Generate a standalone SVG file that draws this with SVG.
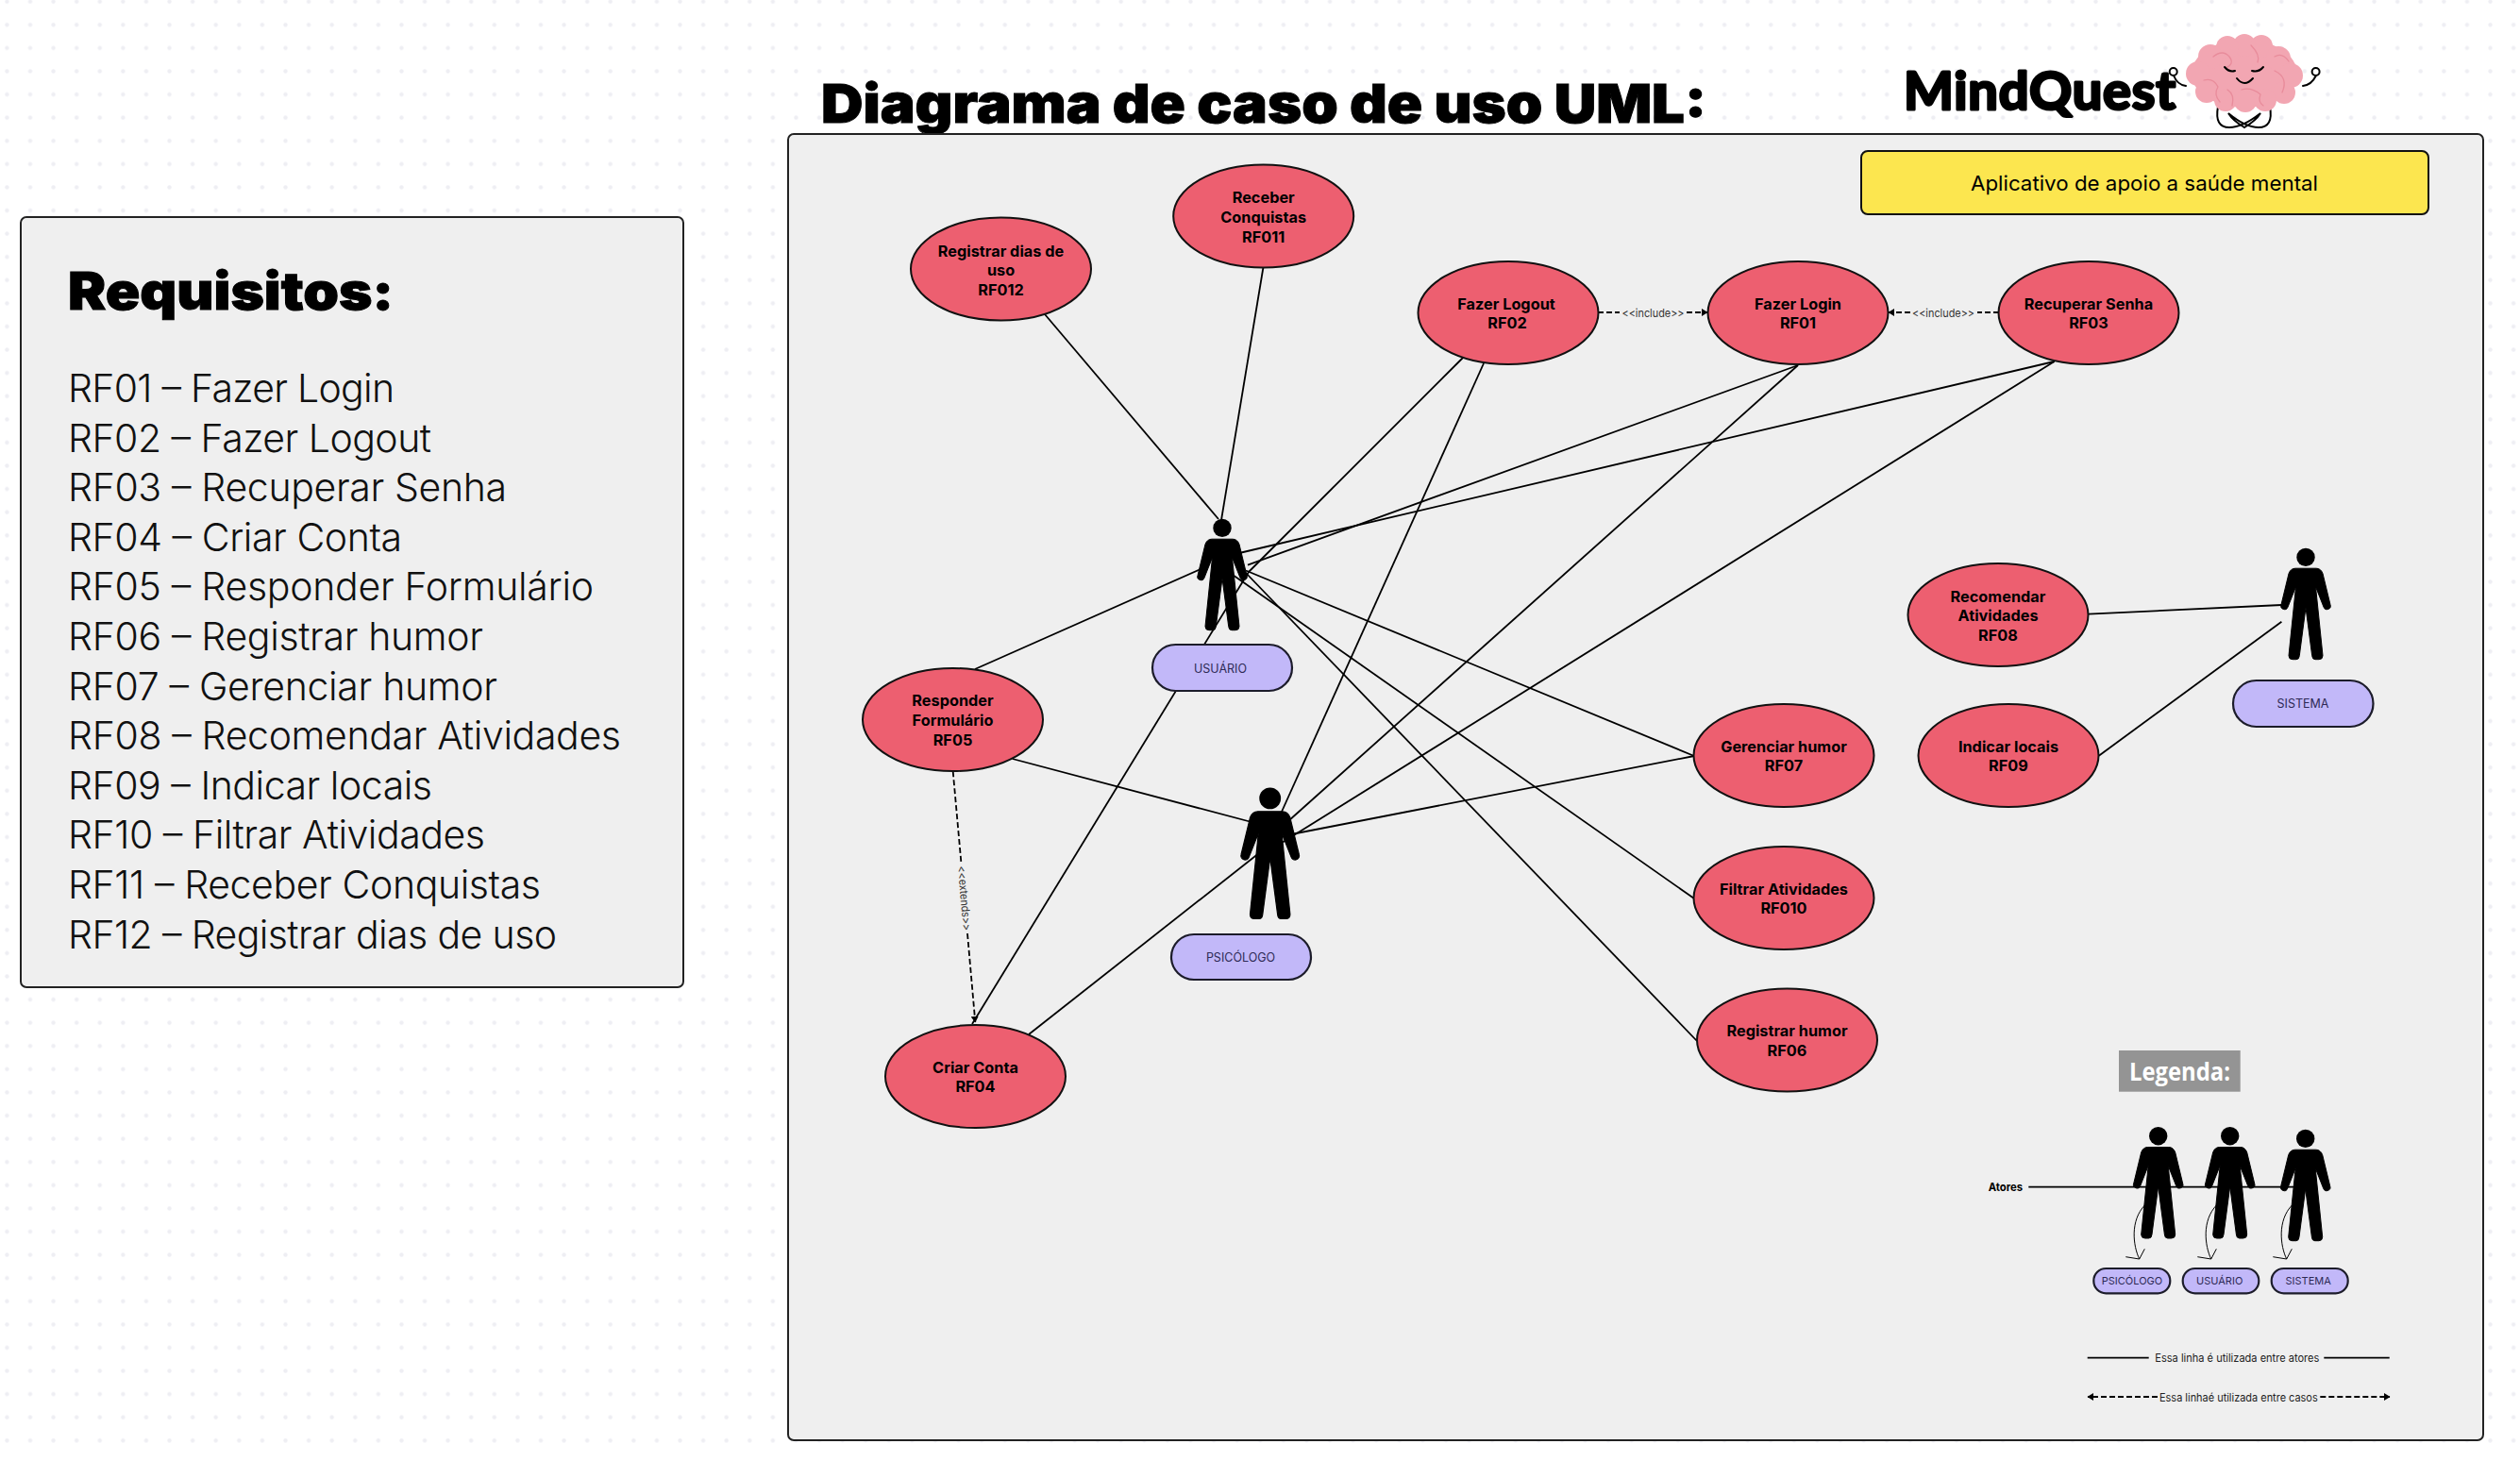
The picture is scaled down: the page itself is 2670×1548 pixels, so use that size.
<svg xmlns="http://www.w3.org/2000/svg" xmlns:xlink="http://www.w3.org/1999/xlink" width="2670" height="1548" viewBox="0 0 2670 1548">
<style>
text{font-family:"Inter","Liberation Sans",sans-serif;fill:#000}
.case{fill:#ED5F70;stroke:#111;stroke-width:2}
.ct{font-size:16.3px;font-weight:700;text-anchor:middle}
.pill{fill:#C2B8F9;stroke:#1c1c2a;stroke-width:2.2}
.pt{font-size:12.5px;fill:#2e2a55;text-anchor:middle}
.ln{stroke:#000;stroke-width:1.8;fill:none}
.ds{stroke:#000;stroke-width:1.8;fill:none;stroke-dasharray:6 3}
.rf{font-size:41px;font-weight:300;fill:#111}
.lt{font-size:11.5px;fill:#222}
.vein{fill:none;stroke:#E88C9B;stroke-width:1.3;stroke-linecap:round}
.face{fill:none;stroke:#000;stroke-width:2;stroke-linecap:round}
</style>
<defs>
<pattern id="dots" patternUnits="userSpaceOnUse" x="-4.9" y="-10.6" width="24.59" height="24.59"><circle cx="12.3" cy="12.3" r="2.2" fill="#EEEEF3"/></pattern>
<marker id="arr" markerWidth="7" markerHeight="8" refX="6" refY="4" orient="auto" markerUnits="userSpaceOnUse"><path d="M0 0 L6.5 4 L0 8 Z" fill="#000"/></marker>
<path id="actor" fill="#000" stroke="#000" stroke-width="1" stroke-linejoin="round" d="M-11 21.5H11Q16 21.5 18 27L26 60A3.6 3.6 0 0 1 19 62.5L10.5 41L18 114Q18 118 14 118H10Q7 118 6.7 114L0 63L-6.7 114Q-7 118-10 118H-14Q-18 118-18 114L-10.5 41L-19 62.5A3.6 3.6 0 0 1-26 60L-18 27Q-16 21.5-11 21.5Z"/>
<g id="fig"><circle cx="0" cy="9.7" r="9.7" fill="#000"/><use xlink:href="#actor" href="#actor"/></g>
</defs>
<rect width="2670" height="1548" fill="#fff"/>
<rect width="2670" height="1548" fill="url(#dots)"/>

<g id="titulo"><text x="870" y="130" font-size="57" font-weight="900" stroke="#000" stroke-width="1" textLength="938" lengthAdjust="spacingAndGlyphs">Diagrama de caso de uso UML:</text></g>

<g id="requisitos">
<rect x="22" y="230" width="702" height="816" rx="6" fill="#EFEFEF" stroke="#222" stroke-width="2"/>
<text x="72" y="328" font-size="55" font-weight="900" stroke="#000" stroke-width="1" textLength="345" lengthAdjust="spacingAndGlyphs">Requisitos:</text>
<text class="rf" x="72" y="426" textLength="346" lengthAdjust="spacing">RF01 – Fazer Login</text>
<text class="rf" x="72" y="478.6" textLength="385" lengthAdjust="spacing">RF02 – Fazer Logout</text>
<text class="rf" x="72" y="531.2" textLength="465" lengthAdjust="spacing">RF03 – Recuperar Senha</text>
<text class="rf" x="72" y="583.8" textLength="354" lengthAdjust="spacing">RF04 – Criar Conta</text>
<text class="rf" x="72" y="636.4" textLength="557" lengthAdjust="spacing">RF05 – Responder Formulário</text>
<text class="rf" x="72" y="689" textLength="440" lengthAdjust="spacing">RF06 – Registrar humor</text>
<text class="rf" x="72" y="741.6" textLength="455" lengthAdjust="spacing">RF07 – Gerenciar humor</text>
<text class="rf" x="72" y="794.2" textLength="586" lengthAdjust="spacing">RF08 – Recomendar Atividades</text>
<text class="rf" x="72" y="846.8" textLength="386" lengthAdjust="spacing">RF09 – Indicar locais</text>
<text class="rf" x="72" y="899.4" textLength="442" lengthAdjust="spacing">RF10 – Filtrar Atividades</text>
<text class="rf" x="72" y="952" textLength="501" lengthAdjust="spacing">RF11 – Receber Conquistas</text>
<text class="rf" x="72" y="1004.6" textLength="518" lengthAdjust="spacing">RF12 – Registrar dias de uso</text>
</g>

<g id="sistema-fundo"><rect x="835" y="142" width="1796" height="1384" rx="6" fill="#EFEFEF" stroke="#222" stroke-width="2"/></g>

<g id="logo">
<text x="2017" y="116" font-size="56" font-weight="700" style="font-family:'Lato','Liberation Sans',sans-serif" stroke="#000" stroke-width="3" stroke-linejoin="round" textLength="288" lengthAdjust="spacing">MindQuest</text>
<g fill="none" stroke="#000" stroke-width="2" stroke-linecap="round">
<path d="M2316 91Q2307 90 2303 80"/><circle cx="2302.7" cy="76" r="4"/>
<path d="M2440 91Q2449 90 2454 80"/><circle cx="2453.6" cy="76" r="4"/>
<path d="M2350 113Q2346 135 2362 135Q2376 135 2395 120Q2390 128 2378 135"/>
<path d="M2405 113Q2409 135 2393 135Q2379 135 2361 120Q2366 128 2378 135"/>
</g>
<g fill="#F2A6B2">
<ellipse cx="2378" cy="78" rx="56" ry="36"/>
<circle cx="2378" cy="48" r="12"/><circle cx="2360" cy="50" r="12"/><circle cx="2396" cy="49" r="12"/>
<circle cx="2342" cy="60" r="13"/><circle cx="2414" cy="62" r="13"/><circle cx="2329" cy="78" r="13"/><circle cx="2427" cy="80" r="13"/>
<circle cx="2338" cy="97" r="12"/><circle cx="2420" cy="98" r="12"/><circle cx="2358" cy="106" r="12"/><circle cx="2379" cy="107" r="12"/><circle cx="2400" cy="106" r="12"/>
</g>
<g><path class="vein" d="M2345 60Q2355 52 2362 60Q2368 68 2358 72"/><path class="vein" d="M2385 48Q2395 58 2392 66"/><path class="vein" d="M2335 85Q2345 82 2350 92Q2345 100 2352 108"/><path class="vein" d="M2410 75Q2425 82 2418 98"/><path class="vein" d="M2375 95Q2385 92 2395 100Q2392 108 2398 112"/><path class="vein" d="M2360 95Q2368 100 2365 112"/><path class="vein" d="M2410 60Q2418 55 2425 65"/></g>
<path class="face" d="M2357 71Q2362 77 2368 75"/><path class="face" d="M2386 75Q2393 77 2398 71"/><path class="face" d="M2370 83Q2378 93 2387 83"/>
</g>

<g id="subtitulo"><rect x="1972" y="160" width="601" height="67" rx="7" fill="#FCE64F" stroke="#111" stroke-width="2"/>
<text x="2272" y="202" font-size="22" text-anchor="middle" textLength="368" lengthAdjust="spacingAndGlyphs">Aplicativo de apoio a saúde mental</text></g>

<g id="conectores">
<line class="ln" x1="1107" y1="333" x2="1291" y2="550"/>
<line class="ln" x1="1338.5" y1="283" x2="1294" y2="551"/>
<line class="ln" x1="1550" y1="379" x2="1323" y2="606"/>
<line class="ln" x1="1030" y1="1085" x2="1323" y2="606"/>
<line class="ln" x1="1572" y1="385" x2="1358" y2="860"/>
<line class="ln" x1="1905" y1="387" x2="1322" y2="598.6"/>
<line class="ln" x1="1905" y1="387" x2="1365" y2="870"/>
<line class="ln" x1="2176.6" y1="383" x2="1313" y2="586"/>
<line class="ln" x1="2176.6" y1="383" x2="1358" y2="893"/>
<line class="ln" x1="1090" y1="1096" x2="1358" y2="885"/>
<line class="ln" x1="1033" y1="709" x2="1272" y2="603"/>
<line class="ln" x1="1072.7" y1="804" x2="1326" y2="871"/>
<line class="ln" x1="1795" y1="801" x2="1320" y2="604.5"/>
<line class="ln" x1="1795" y1="801" x2="1368" y2="884"/>
<line class="ln" x1="1795" y1="952" x2="1306" y2="609"/>
<line class="ln" x1="1798" y1="1103" x2="1320" y2="607"/>
<line class="ln" x1="2212.5" y1="650.7" x2="2417.4" y2="641"/>
<line class="ln" x1="2223.8" y1="800.7" x2="2417.4" y2="658.7"/>
<line class="ds" x1="1693" y1="331" x2="1716" y2="331"/><line class="ds" x1="1787" y1="331" x2="1809" y2="331" marker-end="url(#arr)"/>
<text x="1751.5" y="336" font-size="12" text-anchor="middle" textLength="66" lengthAdjust="spacingAndGlyphs" style="fill:#333">&lt;&lt;include&gt;&gt;</text>
<line class="ds" x1="2024" y1="331" x2="2001" y2="331" marker-end="url(#arr)"/><line class="ds" x1="2118" y1="331" x2="2095" y2="331"/>
<text x="2059" y="336" font-size="12" text-anchor="middle" textLength="66" lengthAdjust="spacingAndGlyphs" style="fill:#333">&lt;&lt;include&gt;&gt;</text>
<line class="ds" x1="1009.7" y1="817.3" x2="1018.3" y2="913"/><line class="ds" x1="1025" y1="989" x2="1033.3" y2="1083" marker-end="url(#arr)"/>
<text transform="translate(1021.7 951.7) rotate(85)" y="4" font-size="12" text-anchor="middle" textLength="69" lengthAdjust="spacingAndGlyphs" style="fill:#333">&lt;&lt;extends&gt;&gt;</text>
</g>

<g id="rf12"><ellipse class="case" cx="1060.5" cy="285" rx="95.5" ry="54.5"/><text class="ct" x="1060.5" y="271.5">Registrar dias de</text><text class="ct" x="1060.5" y="292">uso</text><text class="ct" x="1060.5" y="312.5">RF012</text></g>
<g id="rf11"><ellipse class="case" cx="1338.7" cy="229" rx="95.5" ry="54.5"/><text class="ct" x="1338.7" y="215.3">Receber</text><text class="ct" x="1338.7" y="236">Conquistas</text><text class="ct" x="1338.7" y="256.7">RF011</text></g>
<g id="rf02"><ellipse class="case" cx="1598" cy="331.5" rx="95.5" ry="54.5"/><text class="ct" x="1596" y="327.7">Fazer Logout</text><text class="ct" x="1597" y="348.3">RF02</text></g>
<g id="rf01"><ellipse class="case" cx="1905" cy="331.5" rx="95.5" ry="54.5"/><text class="ct" x="1905" y="327.7">Fazer Login</text><text class="ct" x="1905" y="348.3">RF01</text></g>
<g id="rf03"><ellipse class="case" cx="2213" cy="331.5" rx="95.5" ry="54.5"/><text class="ct" x="2213" y="327.7">Recuperar Senha</text><text class="ct" x="2213" y="348.3">RF03</text></g>
<g id="rf05"><ellipse class="case" cx="1009.5" cy="762.5" rx="95.5" ry="54.5"/><text class="ct" x="1009.5" y="748">Responder</text><text class="ct" x="1009.5" y="769">Formulário</text><text class="ct" x="1009.5" y="790">RF05</text></g>
<g id="rf04"><ellipse class="case" cx="1033.5" cy="1140.5" rx="95.5" ry="54.5"/><text class="ct" x="1033.5" y="1136.7">Criar Conta</text><text class="ct" x="1033.5" y="1157.3">RF04</text></g>
<g id="rf08"><ellipse class="case" cx="2117" cy="651.5" rx="95.5" ry="54.5"/><text class="ct" x="2117" y="637.5">Recomendar</text><text class="ct" x="2117" y="658.2">Atividades</text><text class="ct" x="2117" y="678.9">RF08</text></g>
<g id="rf09"><ellipse class="case" cx="2128" cy="800.5" rx="95.5" ry="54.5"/><text class="ct" x="2128" y="796.7">Indicar locais</text><text class="ct" x="2128" y="817.3">RF09</text></g>
<g id="rf07"><ellipse class="case" cx="1890" cy="800.5" rx="95.5" ry="54.5"/><text class="ct" x="1890" y="796.7">Gerenciar humor</text><text class="ct" x="1890" y="817.3">RF07</text></g>
<g id="rf10"><ellipse class="case" cx="1890" cy="951.5" rx="95.5" ry="54.5"/><text class="ct" x="1890" y="947.7">Filtrar Atividades</text><text class="ct" x="1890" y="968.3">RF010</text></g>
<g id="rf06"><ellipse class="case" cx="1893.5" cy="1102" rx="95.5" ry="54.5"/><text class="ct" x="1893.5" y="1098.2">Registrar humor</text><text class="ct" x="1893.5" y="1118.8">RF06</text></g>

<g id="ator-usuario"><use xlink:href="#fig" href="#fig" x="1295" y="549.7"/><rect class="pill" x="1221" y="683" width="148" height="49" rx="24.5"/><text class="pt" x="1293" y="712.5">USUÁRIO</text></g>
<g id="ator-psicologo"><use xlink:href="#fig" href="#fig" transform="translate(1345.7 834.5) scale(1.178)"/><rect class="pill" x="1241" y="990" width="148" height="48" rx="24"/><text class="pt" x="1314.5" y="1019">PSICÓLOGO</text></g>
<g id="ator-sistema"><use xlink:href="#fig" href="#fig" x="2443" y="580.7"/><rect class="pill" x="2366" y="721" width="148.5" height="49" rx="24.5"/><text class="pt" x="2440" y="750">SISTEMA</text></g>

<g id="legenda">
<rect x="2245" y="1113" width="128.7" height="43.7" fill="#949494"/>
<text x="2309.5" y="1145" font-size="27" font-weight="700" text-anchor="middle" textLength="107" lengthAdjust="spacingAndGlyphs" style="fill:#fff;font-family:'Open Sans','Liberation Sans',sans-serif">Legenda:</text>
<text x="2106.7" y="1262" font-size="12" font-weight="700" textLength="36.5" lengthAdjust="spacingAndGlyphs">Atores</text>
<line class="ln" x1="2149.3" y1="1257.7" x2="2431.7" y2="1257.7"/>
<g id="leg-psicologo"><use xlink:href="#fig" href="#fig" x="2286.7" y="1194"/><path class="ln" style="stroke-width:1" d="M2272.7 1276.7C2256.7 1293 2260 1320 2266.7 1334M2252.3 1331.7L2266.7 1334L2272.3 1323.3"/><rect class="pill" x="2218.3" y="1344" width="81" height="26.3" rx="13"/><text class="pt" style="font-size:11px" x="2259" y="1361">PSICÓLOGO</text></g>
<g id="leg-usuario"><use xlink:href="#fig" href="#fig" x="2362.7" y="1194"/><path class="ln" style="stroke-width:1" d="M2348.7 1276.7C2332.7 1293 2336 1320 2342.7 1334M2328.3 1331.7L2342.7 1334L2348.3 1323.3"/><rect class="pill" x="2312.7" y="1344" width="80.6" height="26.3" rx="13"/><text class="pt" style="font-size:11px" x="2351.7" y="1361">USUÁRIO</text></g>
<g id="leg-sistema"><use xlink:href="#fig" href="#fig" x="2442.7" y="1196.7"/><path class="ln" style="stroke-width:1" d="M2428.7 1276.7C2412.7 1293 2416 1320 2422.7 1334M2408.3 1331.7L2422.7 1334L2428.3 1323.3"/><rect class="pill" x="2406.7" y="1344" width="81" height="26.3" rx="13"/><text class="pt" style="font-size:11px" x="2445.7" y="1361">SISTEMA</text></g>
<line class="ln" x1="2211.7" y1="1438.7" x2="2276.7" y2="1438.7"/><line class="ln" x1="2462.3" y1="1438.7" x2="2531.7" y2="1438.7"/>
<text class="lt" x="2283.3" y="1442.5" textLength="174" lengthAdjust="spacingAndGlyphs">Essa linha é utilizada entre atores</text>
<line class="ds" x1="2286" y1="1480" x2="2212" y2="1480" marker-end="url(#arr)"/><line class="ds" x1="2458.3" y1="1480" x2="2532" y2="1480" marker-end="url(#arr)"/>
<text class="lt" x="2288" y="1484.5" textLength="167.7" lengthAdjust="spacingAndGlyphs">Essa linhaé utilizada entre casos</text>
</g>
</svg>
